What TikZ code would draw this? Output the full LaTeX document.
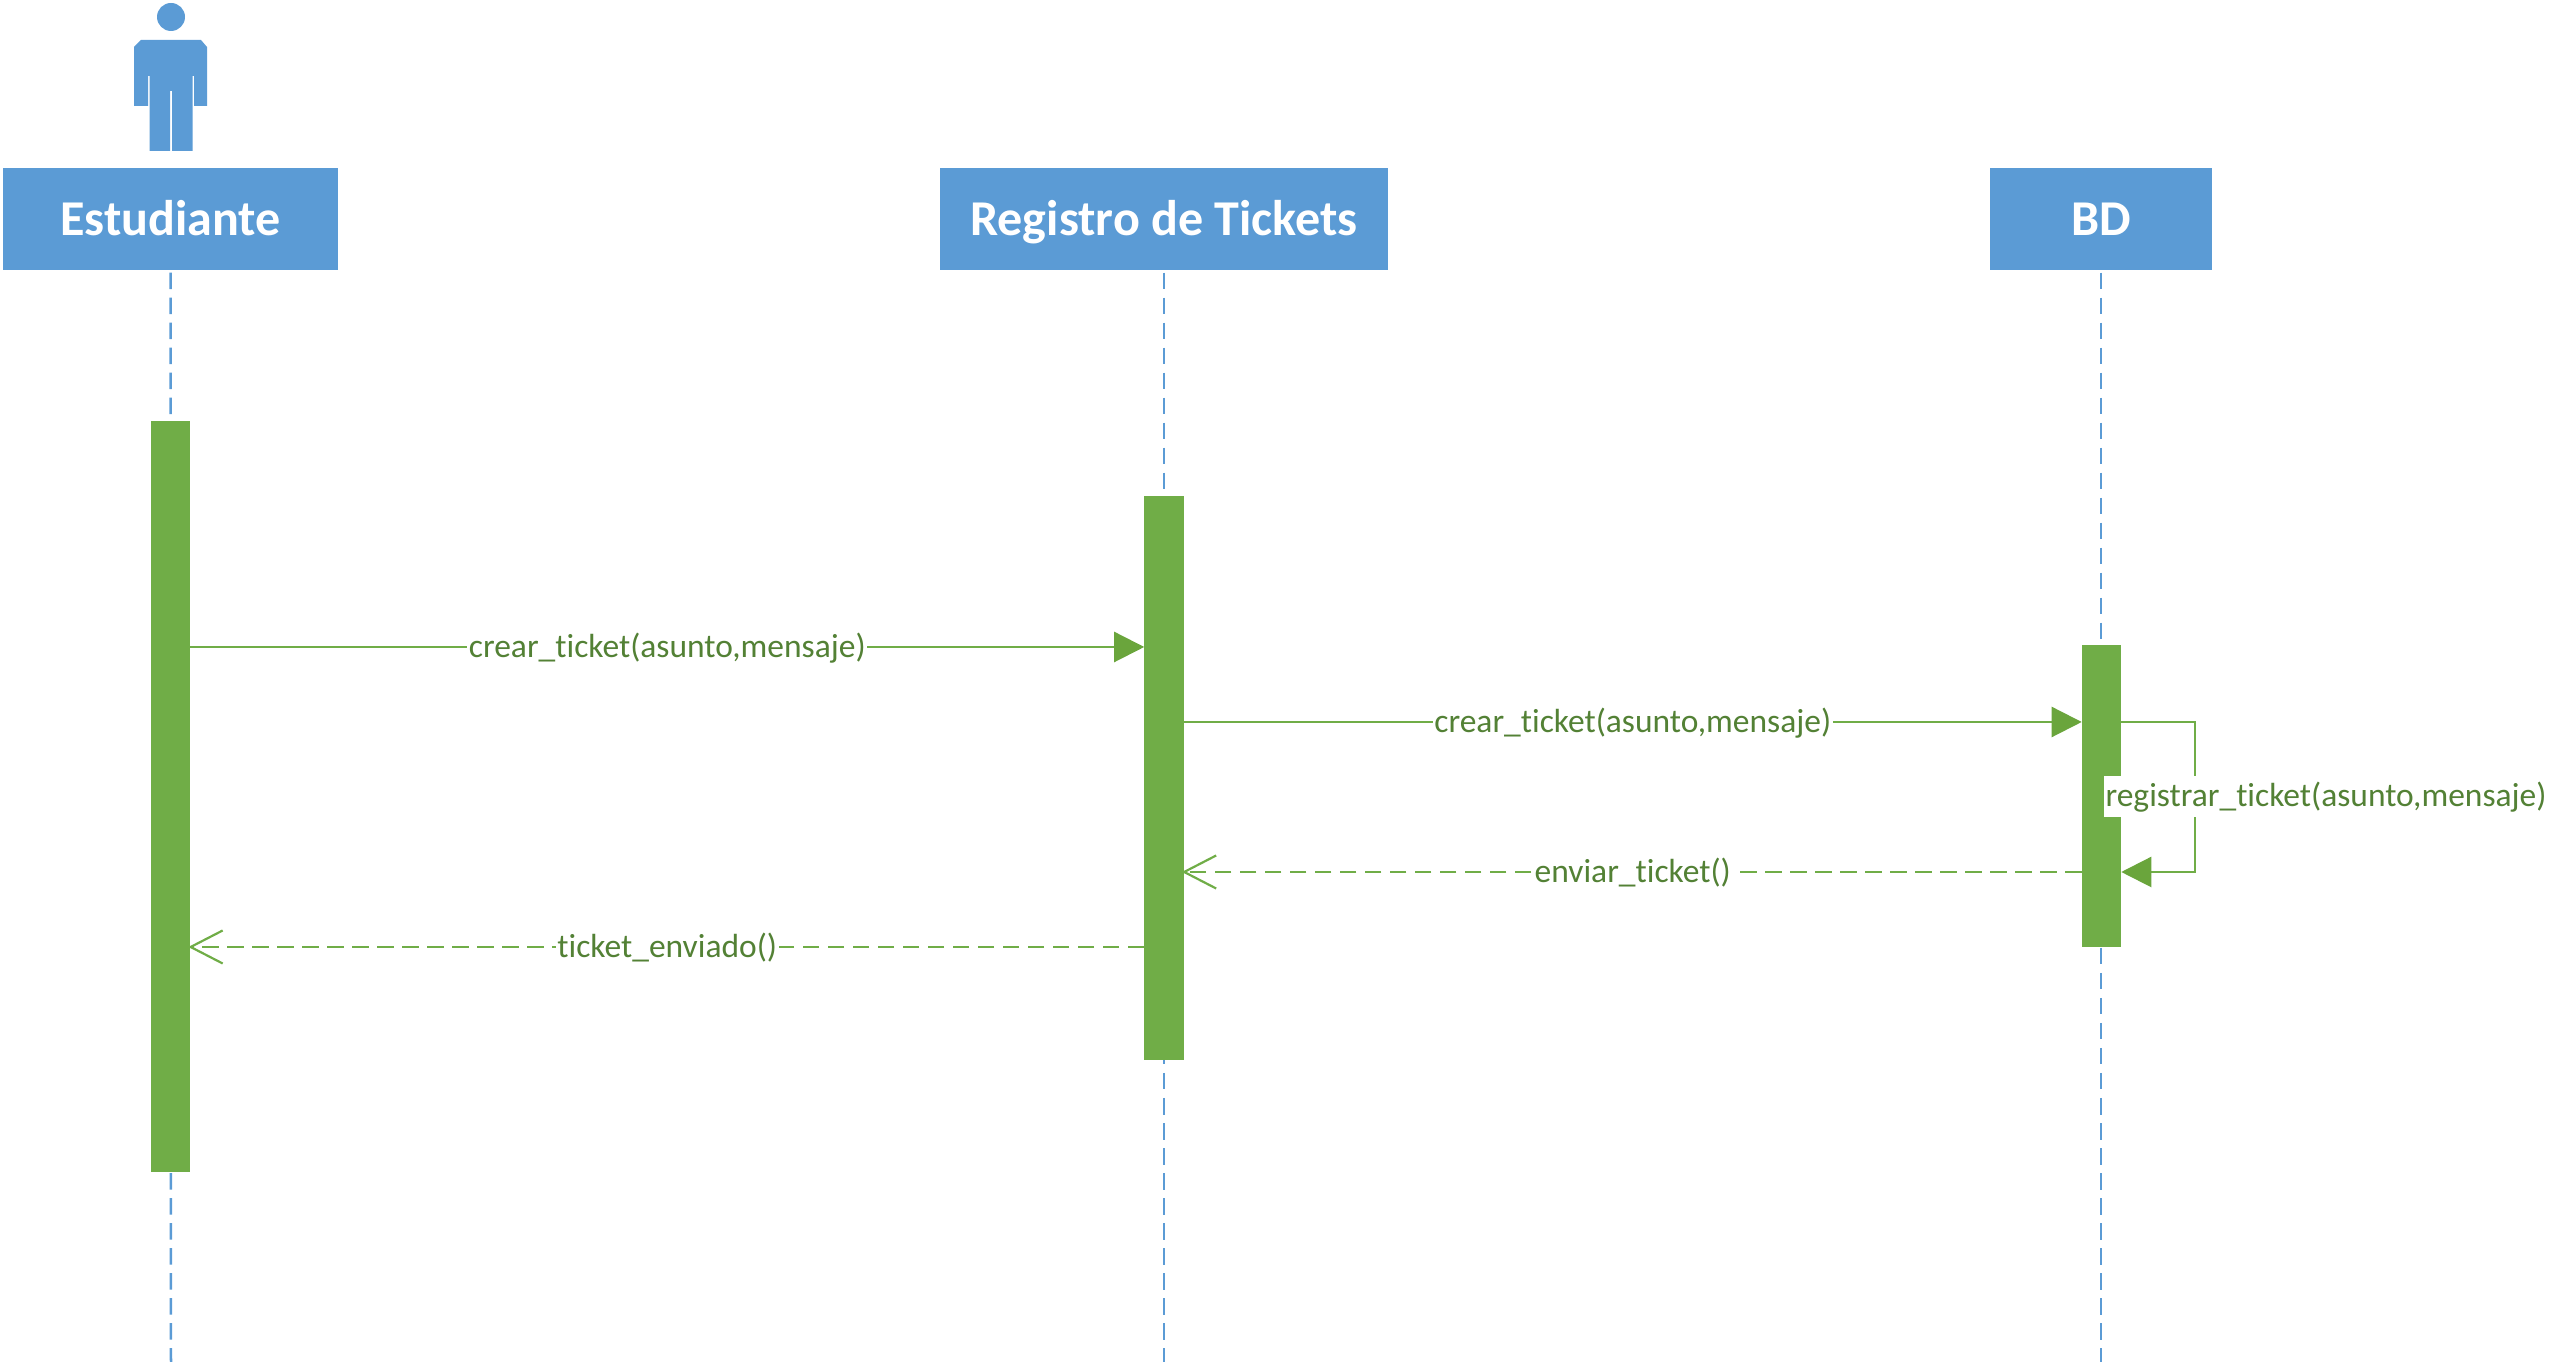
\documentclass[tikz,border=0pt]{standalone}
\usepackage{fontspec}
\setmainfont[Ligatures=NoCommon]{Carlito}
\usepackage{xcolor}
\usetikzlibrary{arrows.meta}
\definecolor{headblue}{HTML}{5B9BD5}
\definecolor{actgreen}{HTML}{70AD47}
\definecolor{tipgreen}{HTML}{6AA53C}
\definecolor{textgreen}{HTML}{538135}
\tikzset{
	header/.style={rectangle, fill=headblue, draw=none, outer sep=0, inner sep=0, minimum height=1.02cm, text=white, text height=.33cm, text depth=0cm, font=\fontsize{14.25}{16}\selectfont\bfseries},
	lifeline/.style={color=headblue, line width=0.025cm, dash pattern=on .165cm off .085cm},
	activation/.style={rectangle, fill=actgreen, draw=none, outer sep=0, inner sep=0, minimum width=.395cm},
	msg/.style={color=actgreen, line width=0.022cm, -{Triangle[length=.3cm, width=.3cm, color=tipgreen]}},
	answer/.style={color=actgreen, line width=0.022cm, dash pattern=on .165cm off .085cm, shorten >=-.02cm, -{Straight Barb[length=.32cm, width=.33cm]}},
	msglabel/.style={fill=white, text=textgreen, inner xsep=.015cm, inner ysep=0, text height=.31cm, text depth=.1cm, font=\fontsize{9.52}{11}\selectfont},
}
\begin{document}
\begin{tikzpicture}[x=0.01cm, y=-0.01cm]
	\useasboundingbox (0,0) rectangle (2565,1368);
	% actor
	\fill[headblue] (171,17) circle (14);
	\fill[headblue] (141,40)--(201,40)--(207,47)--(207,106)--(194,106)--(194,76)--(192.5,76)--(192.5,151)--(172,151)--(172,91)--(170,91)--(170,151)--(149.5,151)--(149.5,76)--(148,76)--(148,106)--(134,106)--(134,47)--cycle;
	% headers
	\node[header, minimum width=3.35cm] (est) at (170.5,219){Estudiante};
	\node[header, minimum width=4.475cm] (reg) at (1164,219){Registro de Tickets};
	\node[header, minimum width=2.22cm] (bd) at (2101,219){BD};
	% lifelines
	\coordinate (endest) at (171,1362);
	\coordinate (endreg) at (1164,1362);
	\coordinate (endbd) at (2101,1362);
	\draw[lifeline] ([yshift=-.025cm]est.south) -- (endest);
	\draw[lifeline] ([yshift=-.025cm]reg.south) -- (endreg);
	\draw[lifeline] ([yshift=-.025cm]bd.south) -- (endbd);
	% activations
	\node[activation, minimum height=7.51cm] (actest) at (170.5,796.5){};
	\node[activation, minimum height=5.64cm] (actreg) at (1164,778){};
	\node[activation, minimum height=3.02cm] (actbd) at (2101.5,796){};
	% messages
	\coordinate (m1) at (0,647);
	\coordinate (m2) at (0,722);
	\coordinate (m3) at (0,872);
	\coordinate (m4) at (0,947);
	\coordinate (loopa) at (2195,722);
	\coordinate (loopb) at (2195,872);
	\draw[msg] (actest.east |- m1) -- (actreg.west |- m1) node[msglabel, midway] (crearuno){crear\_ticket(asunto,mensaje)};
	\draw[msg] (actreg.east |- m2) -- (actbd.west |- m2) node[msglabel, midway] (creardos){crear\_ticket(asunto,mensaje)};
	\draw[msg] (actbd.east |- m2) -- (loopa) -- (loopb) -- (actbd.east |- m3);
	\node[msglabel] (registrar) at (2326,796.5){registrar\_ticket(asunto,mensaje)};
	\draw[answer] (actbd.west |- m3) -- (actreg.east |- m3) node[msglabel, midway] (enviar){enviar\_ticket()};
	\draw[answer] (actreg.west |- m4) -- (actest.east |- m4) node[msglabel, midway] (enviado){ticket\_enviado()};
\end{tikzpicture}
\end{document}
